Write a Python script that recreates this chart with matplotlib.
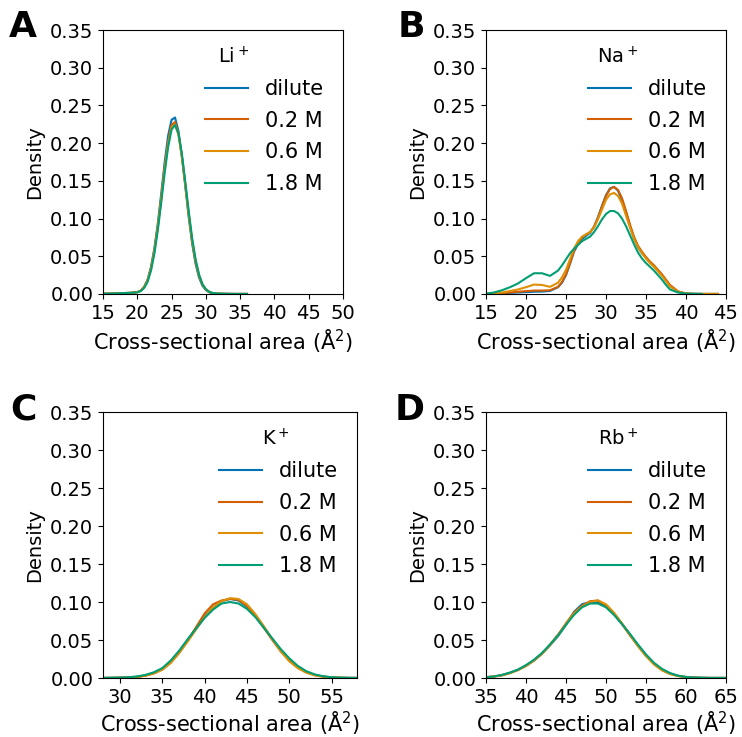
import numpy as np
import matplotlib.pyplot as plt

# colours (seaborn colorblind: blue, vermillion, orange, green)
colors = ['#0173b2', '#d55e00', '#de8f05', '#029e73']
labels = ['dilute', '0.2 M', '0.6 M', '1.8 M']

# ---- Li+ ----
li_x = [15, 16, 17, 18, 19, 20, 20.5, 21, 21.5, 22, 22.5, 23, 23.5, 24, 24.5, 25, 25.5,
        26, 26.5, 27, 27.5, 28, 28.5, 29, 29.5, 30, 30.5, 31, 32, 33, 34, 35, 36]
li_dilute = [0.0003, 0.0005, 0.0008, 0.0012, 0.0015, 0.0025, 0.0045, 0.0096, 0.019, 0.036,
             0.061, 0.094, 0.134, 0.175, 0.210, 0.231, 0.234, 0.216, 0.183, 0.143, 0.102,
             0.067, 0.040, 0.022, 0.011, 0.0052, 0.0022, 0.0009, 0.0003, 0.0002, 0.0001,
             0.0001, 0.0001]
li_02 = [0.0003, 0.0005, 0.0008, 0.0012, 0.0015, 0.0024, 0.0043, 0.0092, 0.018, 0.034,
         0.058, 0.090, 0.128, 0.168, 0.202, 0.224, 0.228, 0.213, 0.183, 0.145, 0.105,
         0.070, 0.043, 0.024, 0.012, 0.006, 0.0026, 0.0011, 0.0004, 0.0002, 0.0001,
         0.0001, 0.0001]
li_06 = [0.0003, 0.0005, 0.0008, 0.0012, 0.0015, 0.0024, 0.0043, 0.0090, 0.0175, 0.033,
         0.057, 0.089, 0.127, 0.166, 0.199, 0.221, 0.225, 0.211, 0.182, 0.145, 0.106,
         0.071, 0.044, 0.025, 0.013, 0.006, 0.0027, 0.0011, 0.0004, 0.0002, 0.0001,
         0.0001, 0.0001]
li_18 = [0.0003, 0.0005, 0.0008, 0.0012, 0.0015, 0.0022, 0.0038, 0.008, 0.016, 0.031,
         0.054, 0.085, 0.122, 0.161, 0.195, 0.218, 0.224, 0.213, 0.186, 0.149, 0.110,
         0.074, 0.046, 0.026, 0.013, 0.0065, 0.003, 0.0013, 0.0005, 0.0002, 0.0001,
         0.0001, 0.0001]

# ---- Na+ ----
na_x = [15, 16, 17, 18, 19, 20, 21, 22, 23, 24, 24.5, 25, 25.5, 26, 26.5, 27, 27.5, 28,
        28.5, 29, 29.5, 30, 30.5, 31, 31.5, 32, 32.5, 33, 33.5, 34, 34.5, 35, 35.5, 36,
        36.5, 37, 37.5, 38, 39, 40, 41, 42, 43, 44]
na_dilute = [0.0002, 0.0005, 0.001, 0.0015, 0.002, 0.0025, 0.003, 0.0032, 0.004, 0.009,
             0.015, 0.025, 0.040, 0.056, 0.066, 0.073, 0.077, 0.081, 0.089, 0.102, 0.117,
             0.131, 0.140, 0.142, 0.137, 0.125, 0.108, 0.090, 0.074, 0.062, 0.054, 0.048,
             0.042, 0.037, 0.031, 0.025, 0.018, 0.011, 0.003, 0.0006, 0.0002, 0.0001,
             0.0001, 0.0001]
na_02 = [0.0002, 0.0006, 0.0012, 0.002, 0.003, 0.0038, 0.0045, 0.0046, 0.005, 0.0095,
         0.016, 0.026, 0.041, 0.057, 0.068, 0.075, 0.079, 0.082, 0.089, 0.101, 0.116,
         0.130, 0.139, 0.142, 0.138, 0.127, 0.110, 0.092, 0.076, 0.064, 0.056, 0.049,
         0.043, 0.038, 0.032, 0.026, 0.019, 0.012, 0.0035, 0.0007, 0.0002, 0.0001,
         0.0001, 0.0001]
na_06 = [0.0003, 0.001, 0.002, 0.004, 0.006, 0.009, 0.0125, 0.012, 0.0095, 0.015,
         0.022, 0.032, 0.046, 0.060, 0.070, 0.076, 0.079, 0.082, 0.088, 0.099, 0.112,
         0.125, 0.132, 0.134, 0.130, 0.120, 0.104, 0.088, 0.073, 0.062, 0.054, 0.047,
         0.041, 0.036, 0.030, 0.024, 0.017, 0.010, 0.003, 0.0006, 0.0002, 0.0001,
         0.0001, 0.0001]
na_18 = [0.0005, 0.002, 0.005, 0.009, 0.014, 0.021, 0.0275, 0.0275, 0.024, 0.031,
         0.038, 0.046, 0.054, 0.060, 0.065, 0.070, 0.073, 0.076, 0.082, 0.090, 0.099,
         0.106, 0.110, 0.110, 0.107, 0.100, 0.090, 0.078, 0.066, 0.055, 0.047, 0.041,
         0.036, 0.031, 0.025, 0.019, 0.012, 0.006, 0.002, 0.0005, 0.0002, 0.0001,
         np.nan, np.nan]

# ---- K+ ----
k_x = list(range(28, 59))
k_dilute = [0.0001, 0.0002, 0.0004, 0.0008, 0.0015, 0.0035, 0.0065, 0.012, 0.022, 0.035,
            0.050, 0.066, 0.081, 0.093, 0.101, 0.104, 0.102, 0.094, 0.082, 0.067, 0.051,
            0.036, 0.024, 0.0145, 0.008, 0.004, 0.002, 0.0009, 0.0004, 0.0002, 0.0001]
k_02 = [0.0001, 0.0002, 0.0004, 0.0008, 0.0014, 0.003, 0.006, 0.011, 0.020, 0.033,
        0.049, 0.067, 0.085, 0.097, 0.102, 0.104, 0.103, 0.095, 0.082, 0.066, 0.050,
        0.035, 0.023, 0.014, 0.0075, 0.0038, 0.0018, 0.0008, 0.0003, 0.0001, 0.0001]
k_06 = [0.0001, 0.0002, 0.0004, 0.0008, 0.0014, 0.003, 0.006, 0.011, 0.020, 0.033,
        0.048, 0.064, 0.080, 0.093, 0.101, 0.105, 0.104, 0.097, 0.084, 0.068, 0.051,
        0.035, 0.022, 0.013, 0.007, 0.0035, 0.0016, 0.0007, 0.0003, 0.0001, 0.0001]
k_18 = [0.0001, 0.0003, 0.0006, 0.001, 0.002, 0.004, 0.0075, 0.013, 0.023, 0.036,
        0.051, 0.065, 0.079, 0.090, 0.098, 0.100, 0.098, 0.091, 0.080, 0.066, 0.052,
        0.038, 0.026, 0.016, 0.009, 0.0048, 0.0023, 0.001, 0.0004, 0.0002, 0.0001]

# ---- Rb+ ----
rb_x = list(range(35, 66))
rb_dilute = [0.001, 0.002, 0.004, 0.007, 0.011, 0.016, 0.023, 0.032, 0.043, 0.055,
             0.070, 0.087, 0.097, 0.100, 0.100, 0.094, 0.084, 0.071, 0.057, 0.043,
             0.030, 0.019, 0.011, 0.006, 0.003, 0.0013, 0.0006, 0.0003, 0.0001,
             0.0001, 0.0001]
rb_02 = [0.001, 0.002, 0.0035, 0.0065, 0.0105, 0.016, 0.023, 0.032, 0.044, 0.057,
         0.072, 0.086, 0.095, 0.101, 0.102, 0.096, 0.085, 0.071, 0.056, 0.042,
         0.029, 0.018, 0.0105, 0.0055, 0.0027, 0.0012, 0.0005, 0.0002, 0.0001,
         0.0001, 0.0001]
rb_06 = [0.001, 0.002, 0.0035, 0.0065, 0.0105, 0.016, 0.023, 0.032, 0.043, 0.056,
         0.071, 0.085, 0.094, 0.100, 0.102, 0.097, 0.086, 0.072, 0.057, 0.042,
         0.029, 0.018, 0.010, 0.0053, 0.0026, 0.0012, 0.0005, 0.0002, 0.0001,
         0.0001, 0.0001]
rb_18 = [0.001, 0.002, 0.004, 0.007, 0.011, 0.017, 0.024, 0.033, 0.044, 0.056,
         0.070, 0.083, 0.093, 0.098, 0.098, 0.093, 0.083, 0.071, 0.058, 0.044,
         0.031, 0.020, 0.012, 0.0065, 0.003, 0.0014, 0.0006, 0.0003, 0.0001,
         0.0001, 0.0001]

panels = [
    ('A', 'Li$^+$', li_x, [li_dilute, li_02, li_06, li_18], (15, 50), list(range(15, 51, 5))),
    ('B', 'Na$^+$', na_x, [na_dilute, na_02, na_06, na_18], (15, 45), list(range(15, 46, 5))),
    ('C', 'K$^+$', k_x, [k_dilute, k_02, k_06, k_18], (28, 58), list(range(30, 56, 5))),
    ('D', 'Rb$^+$', rb_x, [rb_dilute, rb_02, rb_06, rb_18], (35, 65), list(range(35, 66, 5))),
]

# axes boxes in pixels (left, right, top, bottom) on a 742x737 canvas
boxes = [(103, 343, 30, 294), (486, 726, 30, 294),
         (103, 357, 412, 678), (486, 726, 412, 678)]
letter_pos = [(23, 27), (411, 27), (23, 410), (410, 410)]
# legend title spots (axes fraction, left edge)
title_pos = [(0.479, 0.898), (0.4625, 0.898), (0.626, 0.898), (0.467, 0.898)]

W, H = 742, 737
plt.rcParams['font.size'] = 14
fig = plt.figure(figsize=(W / 100, H / 100), dpi=100)

for i, (letter, ion, xs, ys, xlim, xticks) in enumerate(panels):
    l, r, t, b = boxes[i]
    ax = fig.add_axes([l / W, 1 - b / H, (r - l) / W, (b - t) / H])
    for y, c, lab in zip(ys, colors, labels):
        ax.plot(xs, y, color=c, lw=1.5, label=lab)
    ax.set_xlim(*xlim)
    ax.set_ylim(0, 0.35)
    ax.set_xticks(xticks)
    ax.set_yticks(np.arange(0, 0.36, 0.05))
    ax.set_xlabel('Cross-sectional area (Å$^2$)', fontsize=15, labelpad=3 if i < 2 else 1.5)
    ax.set_ylabel('Density')
    ax.legend(frameon=False, loc='upper right', fontsize=15, handlelength=2.1,
              labelspacing=0.56, bbox_to_anchor=(1, 0.885))
    # ion name sits above the legend entries
    ax.text(title_pos[i][0], title_pos[i][1], ion, transform=ax.transAxes,
            fontsize=14, ha='left', va='center')
    fig.text(letter_pos[i][0] / W, 1 - letter_pos[i][1] / H, letter, fontsize=26,
             fontweight='bold', ha='center', va='center')

fig.savefig('out.png', dpi=100)
